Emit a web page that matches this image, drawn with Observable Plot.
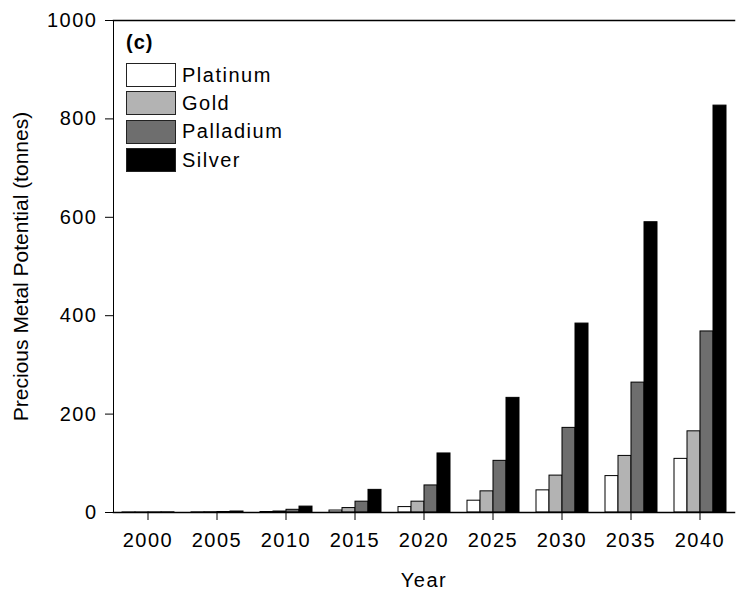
<!DOCTYPE html>
<html><head><meta charset="utf-8">
<script src="https://cdn.jsdelivr.net/npm/d3@7"></script>
<script src="https://cdn.jsdelivr.net/npm/@observablehq/plot@0.6"></script>
<style>
body{margin:0;background:#fff;}
#wrap{position:relative;width:751px;height:589px;font-family:"Liberation Sans",Arial,sans-serif;color:#000;}
#wrap g[aria-label="y-axis label"] text{font-size:21px;letter-spacing:0;}
#legend{position:absolute;left:126px;top:31px;font-size:20px;letter-spacing:1.5px;}
#legend .tag{font-weight:bold;height:30px;line-height:22px;letter-spacing:1px;}
#legend .row{display:flex;align-items:center;height:28.33px;}
#legend .sw{width:48px;height:22px;border:1.5px solid #222;margin-right:6px;}
</style></head><body><div id="wrap"></div>
<script>
const years = [2000, 2005, 2010, 2015, 2020, 2025, 2030, 2035, 2040];
const metals = ["Platinum", "Gold", "Palladium", "Silver"];
const platinum = [0.1, 0.3, 1, 4, 11, 24, 45, 74, 109];
const gold = [0.1, 0.5, 2, 9, 22, 43, 75, 115, 165];
const palladium = [0.2, 1, 5.5, 22, 55, 105, 172, 264, 368];
const silver = [0.3, 2, 12, 46, 120, 233, 384, 590, 827];
const colors = ["#ffffff", "#b3b3b3", "#6e6e6e", "#000000"];
const yTicks = [0, 200, 400, 600, 800, 1000];

const series = [platinum, gold, palladium, silver];
const data = years.flatMap((yr, i) => metals.map((m, j) => ({year: String(yr), metal: m, value: series[j][i]})));

const chart = Plot.plot({
  width: 751, height: 589,
  marginLeft: 113, marginRight: 0, marginTop: 20, marginBottom: 77,
  style: {fontFamily: '"Liberation Sans", Arial, sans-serif', fontSize: "20px", letterSpacing: "1.5px", background: "white", color: "black", overflow: "visible"},
  facet: {data, x: "year"},
  fx: {domain: years.map(String), paddingInner: 0, paddingOuter: 0.0716, align: 0, axis: "bottom", tickSize: 8, tickPadding: 12, label: "Year", labelAnchor: "center", labelOffset: 74, labelArrow: "none"},
  x: {domain: metals, axis: null, paddingInner: 0, paddingOuter: 0.5},
  y: {domain: [0, 1000], ticks: yTicks, tickFormat: d => String(d), tickSize: 8, tickPadding: 8, label: "Precious Metal Potential (tonnes)", labelAnchor: "center", labelOffset: 100, labelArrow: "none", line: true},
  color: {domain: metals, range: colors},
  marks: [
    Plot.barY(data, {x: "metal", y: "value", fill: "metal", stroke: "black", strokeWidth: 1}),
    Plot.frame({facet: "super", anchor: "top", stroke: "black", strokeWidth: 1.5}),
    Plot.frame({facet: "super", anchor: "bottom", stroke: "black", strokeWidth: 1.5})
  ]
});
const wrap = document.getElementById("wrap");
wrap.appendChild(chart);

const legend = document.createElement("div");
legend.id = "legend";
const tag = document.createElement("div");
tag.className = "tag";
tag.textContent = "(c)";
legend.appendChild(tag);
metals.forEach((m, j) => {
  const row = document.createElement("div");
  row.className = "row";
  const sw = document.createElement("div");
  sw.className = "sw";
  sw.style.background = colors[j];
  const lab = document.createElement("span");
  lab.textContent = m;
  row.appendChild(sw);
  row.appendChild(lab);
  legend.appendChild(row);
});
wrap.appendChild(legend);
</script></body></html>
